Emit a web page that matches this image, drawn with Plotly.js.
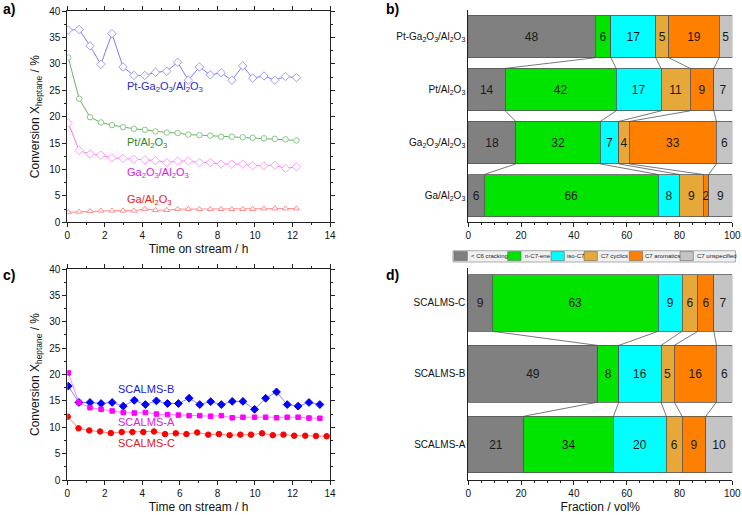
<!DOCTYPE html>
<html><head><meta charset="utf-8">
<script src="https://cdn.plot.ly/plotly-3.0.1.min.js"></script>
<style>html,body{margin:0;padding:0;background:#fff}#chart{width:742px;height:515px}</style>
</head><body><div id="chart"></div>
<script>
// ---------- Panel a: conversion vs time on stream ----------
const timeA  = [0.05,0.63,1.21,1.79,2.38,2.97,3.55,4.13,4.70,5.30,5.88,6.45,7.04,7.62,8.20,8.77,9.35,9.88,10.48,11.06,11.63,12.21];
const ptGaAl = [36.4,36.5,33.4,29.9,35.7,29.4,27.8,27.8,28.4,28.6,30.3,26.9,29.4,27.9,28.3,26.9,29.6,27.3,27.7,26.9,27.6,27.4];
const ptAl   = [31.2,23.4,19.9,18.9,18.4,18.0,17.7,17.5,17.2,17.0,16.9,16.6,16.5,16.4,16.2,16.2,16.1,16.0,15.9,15.8,15.7,15.5];
const ga2o3Al= [18.8,13.6,12.9,12.7,12.2,12.1,11.9,11.8,11.7,11.3,11.6,11.6,11.3,11.3,11.0,11.0,11.0,10.7,10.7,10.8,10.2,10.5];
const gaAl   = [1.9,2.0,2.1,2.2,2.2,2.2,2.2,2.5,2.3,2.3,2.5,2.5,2.5,2.5,2.5,2.5,2.5,2.5,2.6,2.6,2.6,2.6];

// ---------- Panel c: SCALMS ----------
const timeAB  = [0.05,0.62,1.21,1.80,2.39,2.98,3.57,4.16,4.75,5.34,5.92,6.49,7.06,7.64,8.21,8.79,9.36,9.98,10.57,11.15,11.72,12.30,12.88,13.46];
const scalmsB = [17.8,14.7,14.7,14.5,14.7,14.0,15.1,14.3,15.0,14.5,14.5,15.5,14.3,14.85,14.3,14.9,14.9,13.4,15.5,16.7,14.3,14.0,14.7,14.3];
const scalmsA = [20.3,14.7,13.7,13.4,13.1,12.8,12.7,12.8,12.5,12.4,12.3,12.2,12.2,12.1,12.2,11.8,11.9,11.9,11.9,11.8,11.9,11.9,11.75,11.7];
const timeC   = [0.02,0.60,1.17,1.75,2.32,2.90,3.47,4.05,4.62,5.21,5.78,6.35,6.92,7.51,8.08,8.65,9.22,9.79,10.38,10.95,11.52,12.09,12.68,13.25,13.82];
const scalmsC = [12.0,9.8,9.4,9.2,8.9,9.1,9.1,9.1,9.2,8.7,8.85,8.7,9.0,8.6,8.7,8.5,8.6,8.6,8.85,8.5,8.6,8.4,8.4,8.35,8.3];

// ---------- Panels b, d: product fractions ----------
const fractions = ['< C6 cracking','n-C7-ene','iso-C7','C7 cyclics','C7 aromatics','C7 unspecified'];
const fracColors = ['#808080','#00E400','#00FFFF','#E6A838','#FF8000','#C4C4C4'];
const catalystsB = ['Ga/Al<sub>2</sub>O<sub>3</sub>','Ga<sub>2</sub>O<sub>3</sub>/Al<sub>2</sub>O<sub>3</sub>','Pt/Al<sub>2</sub>O<sub>3</sub>','Pt-Ga<sub>2</sub>O<sub>3</sub>/Al<sub>2</sub>O<sub>3</sub>'];
const b_cracking  = [6,18,14,48];
const b_nC7ene    = [66,32,42,6];
const b_isoC7     = [8,7,17,17];
const b_cyclics   = [9,4,11,5];
const b_aromatics = [2,33,9,19];
const b_unspec    = [9,6,7,5];
const catalystsD = ['SCALMS-A','SCALMS-B','SCALMS-C'];
const d_cracking  = [21,49,9];
const d_nC7ene    = [34,8,63];
const d_isoC7     = [20,16,9];
const d_cyclics   = [6,5,6];
const d_aromatics = [9,16,6];
const d_unspec    = [10,6,7];

const W = 742, H = 515;
const fx = p => p / W, fy = p => 1 - p / H;
const FONT = 'Liberation Sans, Arial, sans-serif';
const AX = '#222';

const traces = [];
function line(x, y, name, lc, sym, mfill, mline, size, xa, ya) {
  traces.push({type:'scatter', mode:'lines+markers', x:x, y:y, name:name, xaxis:xa, yaxis:ya, showlegend:false,
    line:{color:lc, width:0.8}, marker:{symbol:sym, size:size, color:mfill, line:{color:mline, width:1}}});
}
line(timeA, ptGaAl, 'Pt-Ga2O3/Al2O3', '#5a5aff', 'diamond', '#fff', '#9a9aff', 6.5, 'x', 'y');
line(timeA, ptAl,   'Pt/Al2O3',       '#3e9e3e', 'circle',  '#fff', '#85c985', 5.5, 'x', 'y');
line(timeA, ga2o3Al,'Ga2O3/Al2O3',    '#ff4cff', 'diamond', '#fff', '#ff9cff', 6.5, 'x', 'y');
line(timeA, gaAl,   'Ga/Al2O3',       '#ff6a6a', 'triangle-up','#fff', '#ff9090', 5.5, 'x', 'y');

line(timeAB, scalmsB, 'SCALMS-B', '#6a6aff', 'diamond', '#0000ff', '#0000ff', 6, 'x2', 'y2');
line(timeAB, scalmsA, 'SCALMS-A', '#ff60ff', 'square',  '#ff00ff', '#ff00ff', 4.5, 'x2', 'y2');
line(timeC,  scalmsC, 'SCALMS-C', '#ff6060', 'circle',  '#ff0000', '#ff0000', 5.5, 'x2', 'y2');

function stacked(series, nCat, xa, ya) {
  series.forEach((vals, k) => {
    traces.push({type:'bar', orientation:'h', x:vals, y:vals.map((v,i)=>i), width:0.8,
      xaxis:xa, yaxis:ya, name:fractions[k], showlegend:false,
      marker:{color:fracColors[k], line:{color:'#555', width:0.8}},
      text:vals.map(String), textposition:'inside', insidetextanchor:'middle', textangle:0,
      textfont:{size:12, color:'#1a1a1a', family:FONT},
      insidetextfont:{size:12, color:'#1a1a1a', family:FONT}, constraintext:'none', hoverinfo:'x+name'});
  });
  // connecting lines between cumulative boundaries of neighbouring bars
  const lx = [], ly = [];
  for (let i = 0; i < nCat - 1; i++) {
    let c0 = 0, c1 = 0;
    for (let k = 0; k < series.length - 1; k++) {
      c0 += series[k][i]; c1 += series[k][i+1];
      lx.push(c0, c1, null); ly.push(i + 0.4, i + 0.6, null);
    }
  }
  traces.push({type:'scatter', mode:'lines', x:lx, y:ly, xaxis:xa, yaxis:ya, showlegend:false,
    line:{color:'#555', width:0.8}, hoverinfo:'skip'});
}
stacked([b_cracking,b_nC7ene,b_isoC7,b_cyclics,b_aromatics,b_unspec], catalystsB.length, 'x3', 'y3');
stacked([d_cracking,d_nC7ene,d_isoC7,d_cyclics,d_aromatics,d_unspec], catalystsD.length, 'x4', 'y4');

function lin(extra) {
  return Object.assign({showline:true, linecolor:AX, linewidth:1, mirror:'ticks', ticks:'outside', ticklen:4,
    tickwidth:1, tickcolor:AX, showgrid:false, zeroline:false, automargin:false,
    tickfont:{size:10, color:'#111', family:FONT}}, extra);
}
const timeAxis = (dom, anchor) => lin({domain:dom, anchor:anchor, range:[0,14], dtick:2, tick0:0,
  minor:{dtick:1, ticks:'outside', ticklen:2, tickcolor:AX},
  title:{text:'Time on stream / h', font:{size:12, color:'#111', family:FONT}, standoff:4}});
const convAxis = (dom, anchor) => lin({domain:dom, anchor:anchor, range:[0,40], dtick:5, tick0:0,
  minor:{dtick:2.5, ticks:'outside', ticklen:2, tickcolor:AX},
  title:{text:'Conversion X<sub>heptane</sub> / %', font:{size:12, color:'#111', family:FONT}, standoff:6}});
const fracAxis = (dom, anchor, withTitle) => {
  const ax = lin({domain:dom, anchor:anchor, range:[0,100], dtick:20, tick0:0, mirror:false,
    minor:{dtick:5, ticks:'outside', ticklen:2, tickcolor:AX}});
  if (withTitle) ax.title = {text:'Fraction / vol%', font:{size:12, color:'#111', family:FONT}, standoff:4};
  return ax;
};
const catAxis = (dom, anchor, labels) => lin({domain:dom, anchor:anchor, range:[-0.5, labels.length-0.5],
  tickvals:labels.map((l,i)=>i), ticktext:labels, ticks:'', mirror:false, tickfont:{size:10, color:'#111', family:FONT}});
const bndAxis = (over, anchor, n) => ({overlaying:over, anchor:anchor, range:[-0.5, n-0.5], showline:false, showgrid:false,
  zeroline:false, showticklabels:false, ticks:'outside', ticklen:4, tickcolor:AX,
  tickvals:Array.from({length:n+1}, (_, i) => i - 0.5)});

const domXL = [fx(67.3), fx(330)], domXR = [fx(468.3), fx(732.3)];
const domYT = [fy(222.3), fy(11)], domYB = [fy(480), fy(269)];
const domYTb = [fy(222.3), fy(10)], domYBd = [fy(480), fy(267.5)];

const ann = [];
const lab = (t, x, y, size, bold) => ann.push({text: bold ? '<b>'+t+'</b>' : t, xref:'paper', yref:'paper', x:fx(x), y:fy(y),
  showarrow:false, xanchor:'center', yanchor:'middle', font:{size:size, color:'#000', family:FONT}});
lab('a)', 9, 9, 14, true); lab('b)', 392, 9, 14, true); lab('c)', 9, 275, 14, true); lab('d)', 392, 275, 14, true);

const seriesLab = (t, x, y, col, xa, ya) => ann.push({text:t, xref:xa, yref:ya, x:x, y:y, showarrow:false,
  xanchor:'left', yanchor:'middle', font:{size:11, color:col, family:FONT}});
seriesLab('Pt-Ga<sub>2</sub>O<sub>3</sub>/Al<sub>2</sub>O<sub>3</sub>', 3.05, 25.6, '#2a2ad0', 'x', 'y');
seriesLab('Pt/Al<sub>2</sub>O<sub>3</sub>', 3.05, 15.0, '#2a8a2a', 'x', 'y');
seriesLab('Ga<sub>2</sub>O<sub>3</sub>/Al<sub>2</sub>O<sub>3</sub>', 3.05, 9.3, '#e020e0', 'x', 'y');
seriesLab('Ga/Al<sub>2</sub>O<sub>3</sub>', 3.05, 4.3, '#ee2020', 'x', 'y');
seriesLab('SCALMS-B', 2.6, 17.2, '#2020d8', 'x2', 'y2');
seriesLab('SCALMS-A', 2.6, 11.0, '#e020e0', 'x2', 'y2');
seriesLab('SCALMS-C', 2.6, 7.0, '#e02020', 'x2', 'y2');

// legend (between panels b and d)
const shapes = [{type:'rect', xref:'paper', yref:'paper', x0:fx(453), x1:fx(735.5), y0:fy(262), y1:fy(250.7),
  fillcolor:'#f0f0f0', line:{color:'#999', width:0.8}}];
const legSwX = [454, 507.7, 551, 584, 629.3, 680];
const legTxX = [469.3, 522.7, 564.8, 599, 643.2, 695.2];
fractions.forEach((f, k) => {
  shapes.push({type:'rect', xref:'paper', yref:'paper', x0:fx(legSwX[k]), x1:fx(legSwX[k]+13.3), y0:fy(260.6), y1:fy(251.6),
    fillcolor:fracColors[k], line:{color:'#666', width:0.6}});
  ann.push({text:f, xref:'paper', yref:'paper', x:fx(legTxX[k]), y:fy(256.3), showarrow:false, xanchor:'left', yanchor:'middle',
    font:{size:6, color:'#222', family:FONT}});
});

const layout = {
  width:W, height:H, margin:{l:0, r:0, t:0, b:0}, paper_bgcolor:'#fff', plot_bgcolor:'#fff',
  font:{family:FONT, color:'#111'}, showlegend:false, barmode:'stack',
  xaxis: timeAxis(domXL, 'y'), yaxis: convAxis(domYT, 'x'),
  xaxis2: timeAxis(domXL, 'y2'), yaxis2: convAxis(domYB, 'x2'),
  xaxis3: fracAxis(domXR, 'y3', false), yaxis3: catAxis(domYTb, 'x3', catalystsB),
  xaxis4: fracAxis(domXR, 'y4', true), yaxis4: catAxis(domYBd, 'x4', catalystsD),
  yaxis5: bndAxis('y3', 'x3', catalystsB.length),
  yaxis6: bndAxis('y4', 'x4', catalystsD.length),
  annotations: ann, shapes: shapes
};
Plotly.newPlot('chart', traces, layout, {displayModeBar:false, staticPlot:true});
</script></body></html>
